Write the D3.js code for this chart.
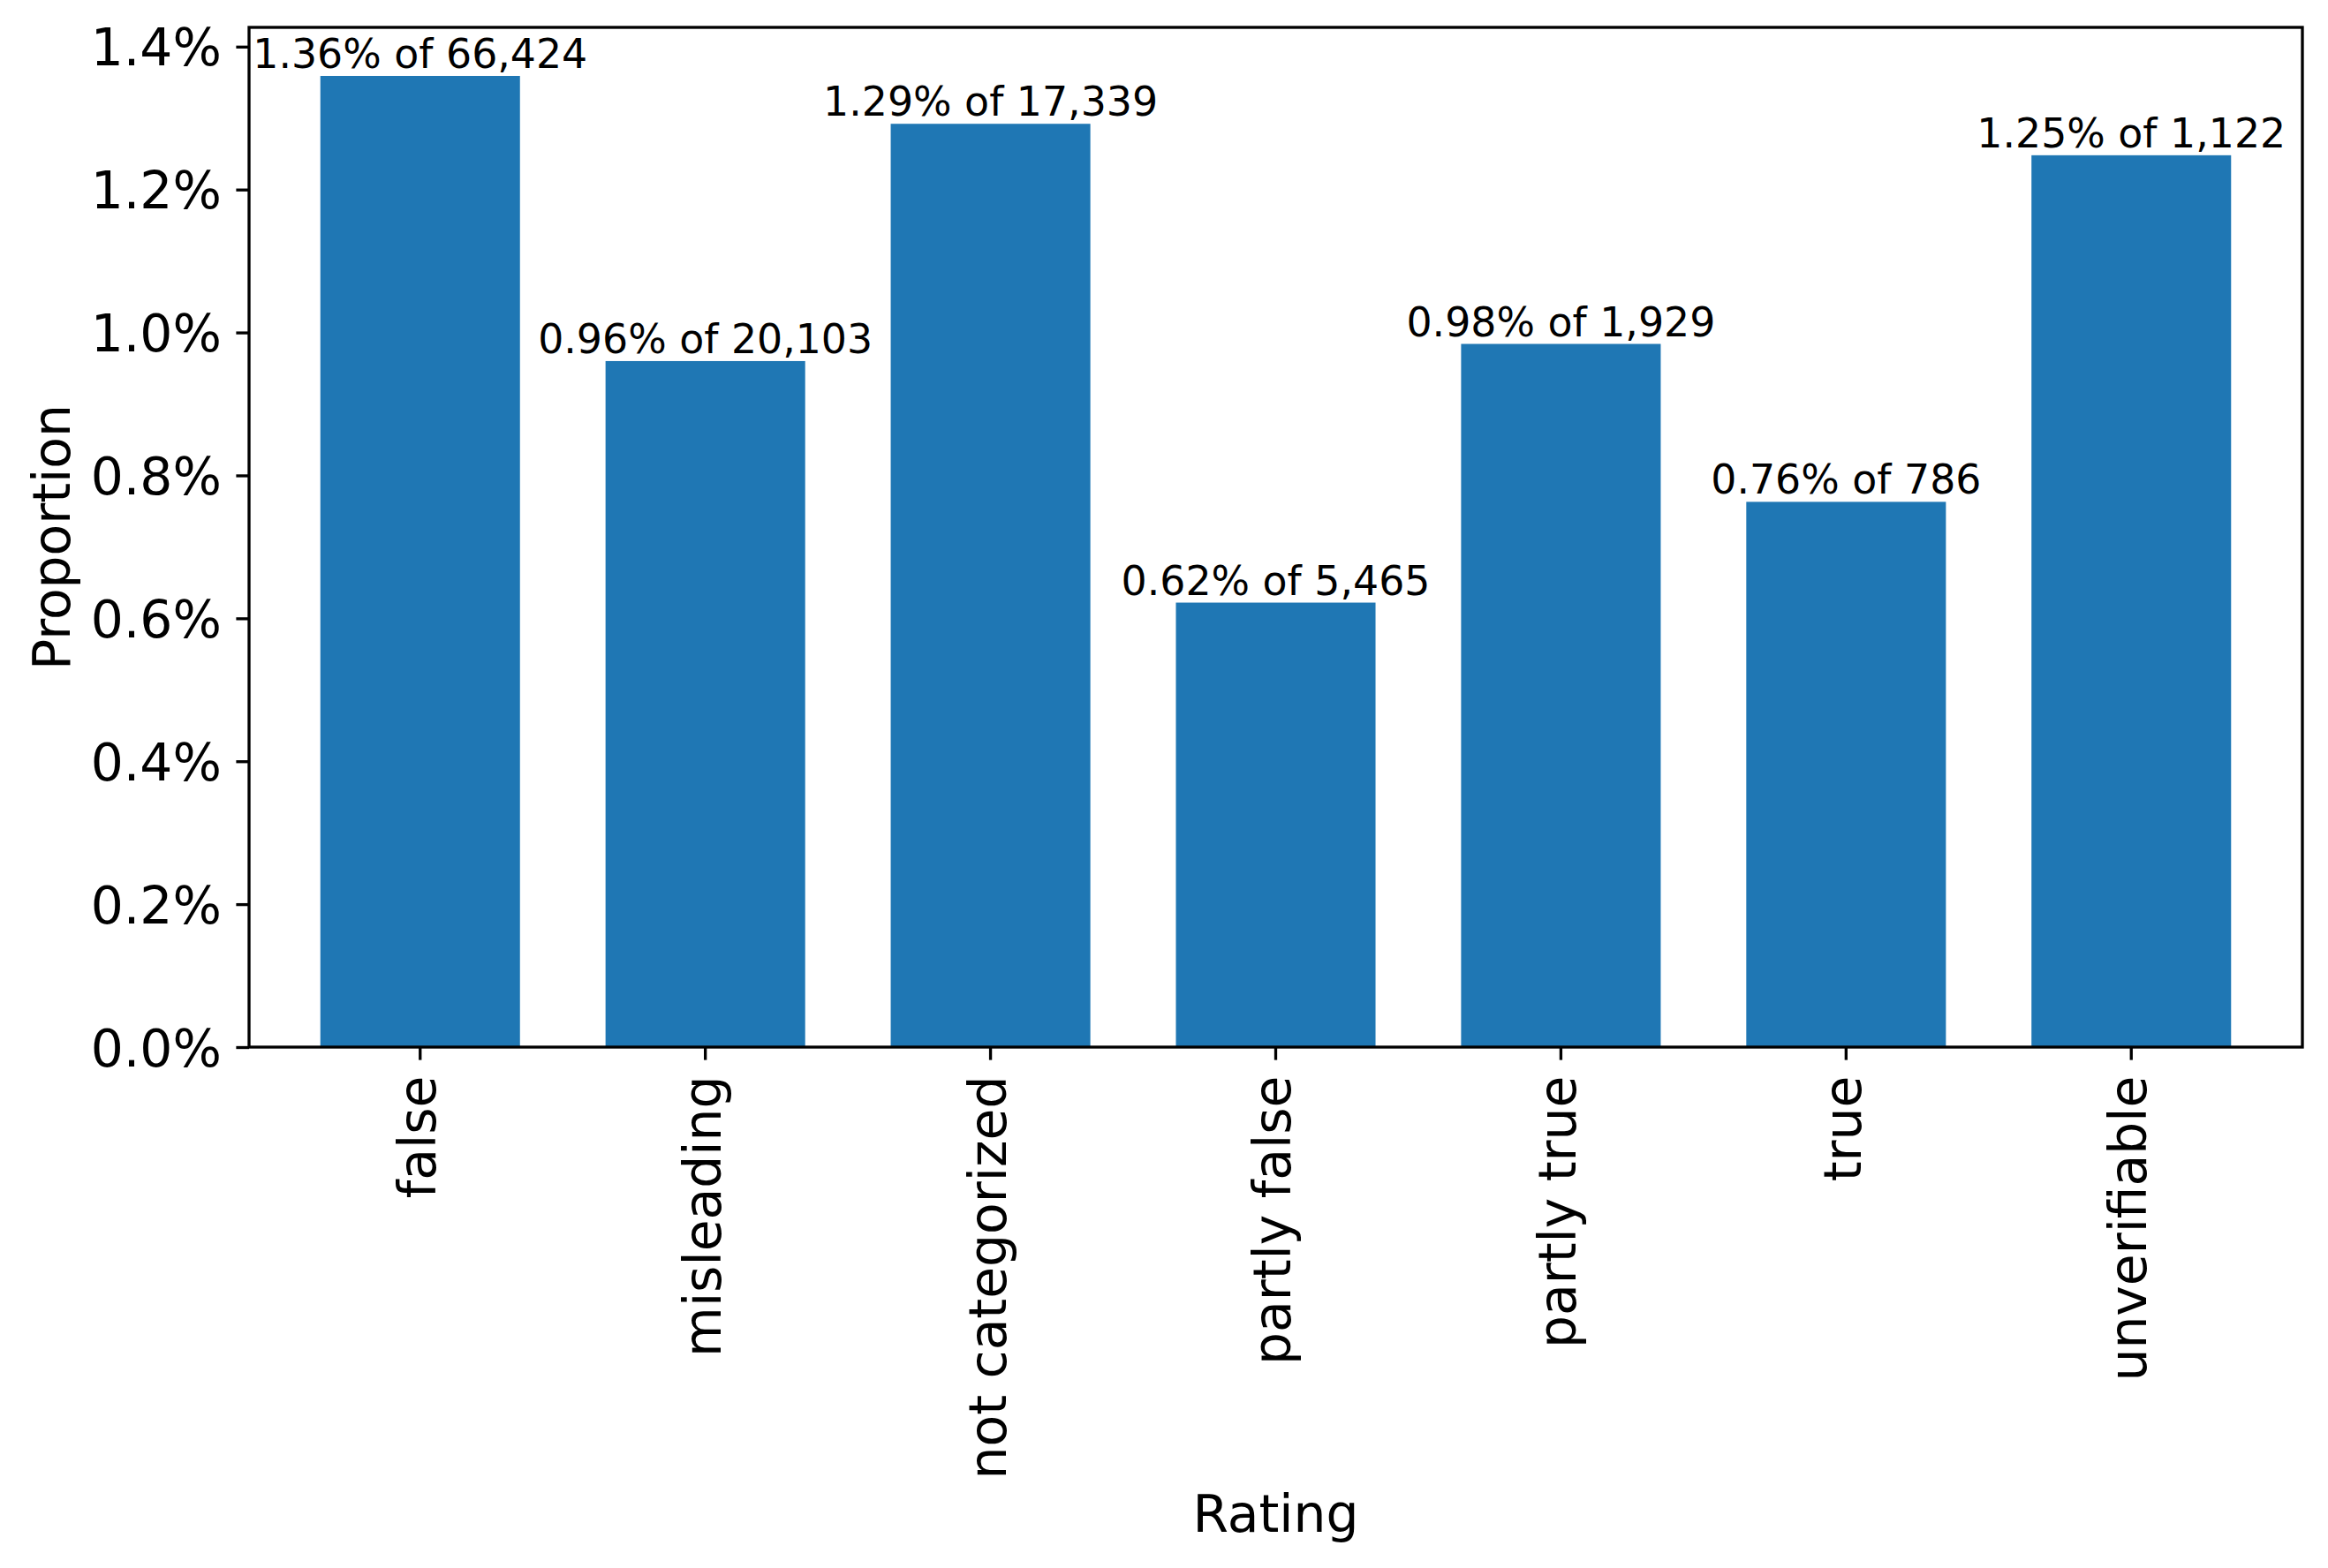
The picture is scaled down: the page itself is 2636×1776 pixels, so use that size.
<!DOCTYPE html>
<html>
<head>
<meta charset="utf-8">
<script src="https://cdn.jsdelivr.net/npm/d3@7"></script>
<style>
  html, body { margin: 0; padding: 0; background: #ffffff; }
  svg { display: block; }
  text { font-family: "DejaVu Sans", sans-serif; fill: #000; }
</style>
</head>
<body>
<svg id="chart" width="2636" height="1776"></svg>
<script>
// ---- data ----
const categories = ["false", "misleading", "not categorized", "partly false", "partly true", "true", "unverifiable"];
const proportions = [1.359, 0.960, 1.292, 0.622, 0.984, 0.763, 1.248]; // percent
const totals = [66424, 20103, 17339, 5465, 1929, 786, 1122];
const yTicks = [0, 0.2, 0.4, 0.6, 0.8, 1.0, 1.2, 1.4];
const xLabel = "Rating";
const yLabel = "Proportion";

// ---- layout ----
const W = 2636, H = 1776;
const plot = { left: 282, right: 2607, top: 31, bottom: 1186 };
const tickLen = 14.6, lw = 3.33;
const tickFont = 58.3, annFont = 45.8;

const svg = d3.select("#chart");
svg.append("rect").attr("width", W).attr("height", H).attr("fill", "#fff");

const x = d3.scaleBand()
  .domain(categories)
  .range([plot.left, plot.right])
  .paddingInner(0.3)
  .paddingOuter(0.25);

const y = d3.scaleLinear()
  .domain([0, d3.max(proportions) * 1.05])
  .range([plot.bottom, plot.top]);

const data = categories.map((c, i) => ({ cat: c, v: proportions[i], n: totals[i] }));

// bars
svg.append("g").selectAll("rect").data(data).join("rect")
  .attr("x", d => x(d.cat))
  .attr("width", x.bandwidth())
  .attr("y", d => y(d.v))
  .attr("height", d => y(0) - y(d.v))
  .attr("fill", "#1f77b4");

// annotations
const fmtN = d3.format(",");
svg.append("g").selectAll("text").data(data).join("text")
  .attr("x", d => x(d.cat) + x.bandwidth() / 2)
  .attr("y", d => y(d.v) - 9)
  .attr("text-anchor", "middle")
  .style("font-size", annFont + "px")
  .text(d => d.v.toFixed(2) + "% of " + fmtN(d.n));

// y axis
const yAxis = d3.axisLeft(y)
  .tickValues(yTicks)
  .tickFormat(d => d.toFixed(1) + "%")
  .tickSize(tickLen)
  .tickPadding(tickLen + 2);
const gy = svg.append("g").attr("transform", `translate(${plot.left},0)`).call(yAxis);
gy.select(".domain").remove();
gy.selectAll(".tick line").attr("stroke", "#000").attr("stroke-width", lw);
gy.selectAll(".tick text")
  .attr("dy", "0.36em")
  .style("font-size", tickFont + "px")
  .style("font-family", "DejaVu Sans, sans-serif")
  .attr("fill", "#000");

// x axis
const xAxis = d3.axisBottom(x).tickSize(tickLen).tickSizeOuter(0);
const gx = svg.append("g").attr("transform", `translate(0,${plot.bottom})`).call(xAxis);
gx.select(".domain").remove();
gx.selectAll(".tick line").attr("stroke", "#000").attr("stroke-width", lw);
gx.selectAll(".tick text")
  .attr("y", null).attr("dy", null)
  .attr("transform", `translate(0,${tickLen + 18}) rotate(-90)`)
  .attr("text-anchor", "end")
  .attr("x", 0).attr("y", 0)
  .attr("dy", "0.29em")
  .style("font-size", tickFont + "px")
  .style("font-family", "DejaVu Sans, sans-serif")
  .attr("fill", "#000");

// frame (spines)
svg.append("rect")
  .attr("x", plot.left).attr("y", plot.top)
  .attr("width", plot.right - plot.left).attr("height", plot.bottom - plot.top)
  .attr("fill", "none").attr("stroke", "#000").attr("stroke-width", lw)
  .attr("stroke-linejoin", "miter");

// axis labels
svg.append("text")
  .attr("x", (plot.left + plot.right) / 2)
  .attr("y", 1735)
  .attr("text-anchor", "middle")
  .style("font-size", tickFont + "px")
  .text(xLabel);

svg.append("text")
  .attr("transform", `translate(79,${(plot.top + plot.bottom) / 2}) rotate(-90)`)
  .attr("text-anchor", "middle")
  .style("font-size", tickFont + "px")
  .text(yLabel);
</script>
</body>
</html>
